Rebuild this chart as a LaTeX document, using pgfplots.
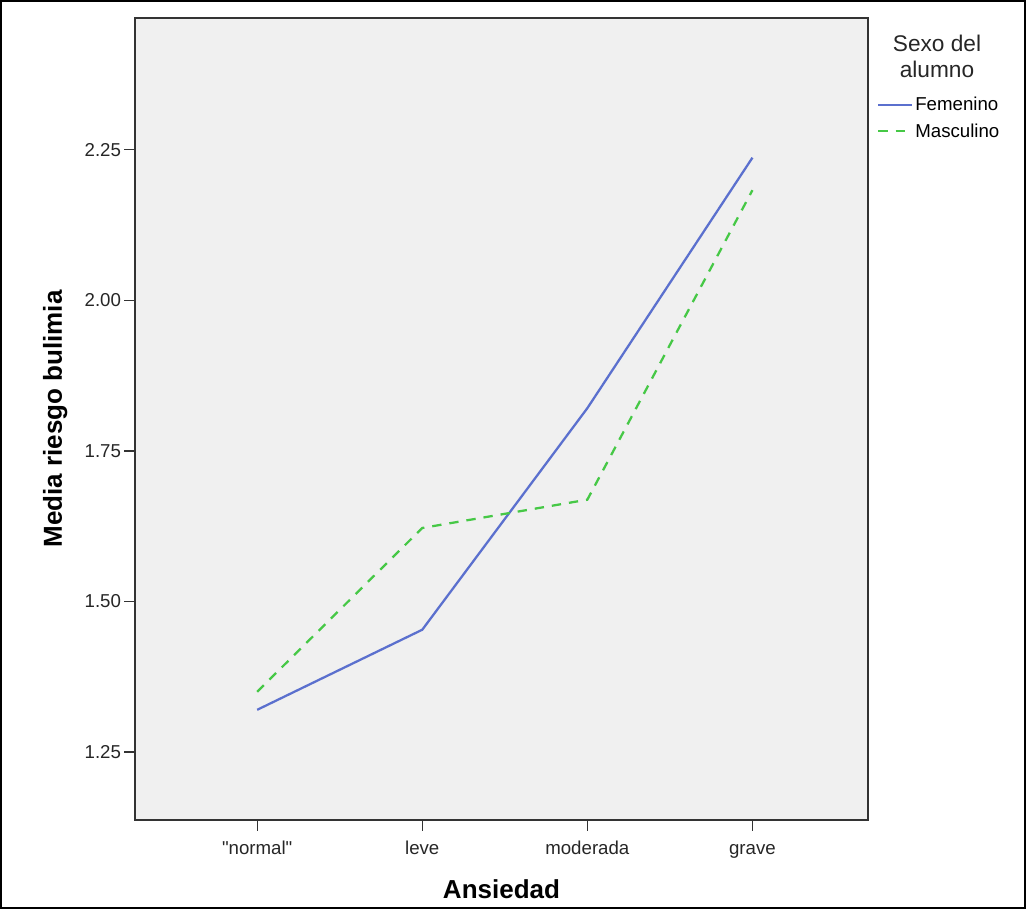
\documentclass[border=0pt]{standalone}
\usepackage{fontspec}
\setmainfont{Liberation Sans}
\usepackage{pgfplots}
\pgfplotsset{compat=1.18}
\definecolor{fem}{RGB}{91,112,206}
\definecolor{mas}{RGB}{70,200,70}
\definecolor{bg}{RGB}{240,240,240}
\begin{document}
\begin{tikzpicture}
% outer frame (1 px = 0.75pt)
\draw[line width=1.2pt, black] (0.6pt,-0.6pt) rectangle (768.9pt,-681.15pt);
\begin{axis}[
  at={(101.25pt,-615pt)}, anchor=south west,
  scale only axis, width=549.75pt, height=601.5pt,
  xmin=-0.74, xmax=3.70, ymin=1.137, ymax=2.469,
  axis background/.style={fill=bg},
  axis line style={black!80, line width=0.9pt},
  xtick={0,1,2,3},
  xticklabels={\textquotedbl normal\textquotedbl,leve,moderada,grave},
  ytick={1.25,1.5,1.75,2.0,2.25},
  yticklabel style={/pgf/number format/fixed, /pgf/number format/fixed zerofill, /pgf/number format/precision=2, xshift=1pt},
  /pgf/number format/assume math mode=true,
  tick align=outside, major tick length=8pt,
  tick style={black!80, line width=0.9pt},
  xtick pos=bottom, ytick pos=left,
  ticklabel style={font=\fontsize{14}{16}\selectfont, text=black!85},
  xticklabel style={text height=1.6ex, text depth=0.3ex, yshift=-6pt},
  xlabel={Ansiedad}, ylabel={Media riesgo bulimia},
  label style={font=\fontsize{19.5}{22}\selectfont\bfseries},
  xlabel style={yshift=-10pt},
  ylabel style={yshift=6pt},
  legend style={at={(1.012,0.903)}, anchor=north west, draw=none, fill=none,
    font=\fontsize{14}{16}\selectfont, inner sep=0pt, row sep=6pt,
    nodes={inner xsep=2pt, inner ysep=1pt}},
  legend cell align=left,
  legend image code/.code={\draw[#1] (0pt,0pt) -- (25pt,0pt);},
  clip=false,
]
\addplot[color=fem, line width=1.7pt] coordinates {(0,1.320) (1,1.453) (2,1.821) (3,2.237)};
\addlegendentry{Femenino}
\addplot[color=mas, line width=1.7pt, dash pattern=on 7pt off 6pt] coordinates {(0,1.350) (1,1.622) (2,1.669) (3,2.183)};
\addlegendentry{Masculino}
\end{axis}
\node[align=center, font=\fontsize{17}{19.5}\selectfont, text=black!85] at (702.75pt,-42pt) {Sexo del\\alumno};
\end{tikzpicture}
\end{document}
